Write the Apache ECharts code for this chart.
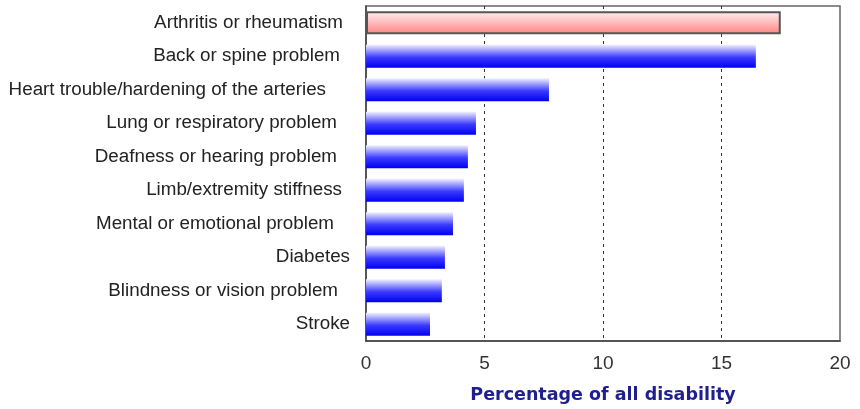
<!DOCTYPE html>
<html><head><meta charset="utf-8">
<script src="https://cdn.jsdelivr.net/npm/echarts@6/dist/echarts.min.js"></script>
<style>html,body{margin:0;padding:0;background:#fff;overflow:hidden}#c{width:860px;height:409px}</style>
</head><body><div id="c"></div>
<script>
const categories = ["Arthritis or rheumatism","Back or spine problem","Heart trouble/hardening of the arteries","Lung or respiratory problem","Deafness or hearing problem","Limb/extremity stiffness","Mental or emotional problem","Diabetes","Blindness or vision problem","Stroke"];
const values = [17.5, 16.45, 7.72, 4.64, 4.3, 4.13, 3.67, 3.33, 3.2, 2.7];
const xTicks = {min: 0, max: 20, interval: 5};
const axisTitle = "Percentage of all disability";

// label right padding (style), matching the reference's uneven label ends
const labelPad = [7, 10, 24, 13, 13, 8, 16, 0, 12, 0];
const labelFont = {color:'#222',fontSize:18.8,fontFamily:'Liberation Sans, Arial'};
const rich = {};
labelPad.forEach((p,i)=>{ rich['p'+i] = Object.assign({padding:[0,p,0,0]}, labelFont); });

const blue = new echarts.graphic.LinearGradient(0,0,0,1,[
  {offset:0,color:'#f0f0ff'},{offset:0.55,color:'#3a3aff'},{offset:1,color:'#0000f0'}]);
const red = new echarts.graphic.LinearGradient(0,0,0,1,[
  {offset:0,color:'#fff0f0'},{offset:1,color:'#ff8282'}]);

const chart = echarts.init(document.getElementById('c'));
chart.setOption({
  animation:false,
  grid:{left:366,width:474,top:6,height:336,show:true,borderColor:'#666',borderWidth:1.5,backgroundColor:'transparent'},
  xAxis:{type:'value',min:xTicks.min,max:xTicks.max,interval:xTicks.interval,
    axisLine:{show:true,lineStyle:{color:'#444',width:1.5}},axisTick:{show:false},
    axisLabel:{color:'#333',fontSize:19,fontFamily:'Liberation Sans, Arial',margin:13},
    splitLine:{show:true,lineStyle:{color:['transparent','#333','#333','#333','transparent'],type:[3,4],width:1}},
    name:axisTitle,nameLocation:'middle',nameGap:45,
    nameTextStyle:{color:'#1f1f8f',fontSize:17.5,fontWeight:'bold',fontFamily:'DejaVu Sans'}},
  yAxis:{type:'category',data:categories,inverse:true,
    axisLine:{show:true,lineStyle:{color:'#444',width:1.5}},axisTick:{show:false},
    axisLabel:Object.assign({margin:16,rich:rich,formatter:(v,i)=>'{p'+i+'|'+v+'}'}, labelFont)},
  series:[{type:'bar',barWidth:23,
    data:values.map((v,i)=> i===0 ? {value:v,itemStyle:{color:red,borderColor:'#555',borderWidth:2}} : {value:v,itemStyle:{color:blue}})
  }]
});
</script></body></html>
